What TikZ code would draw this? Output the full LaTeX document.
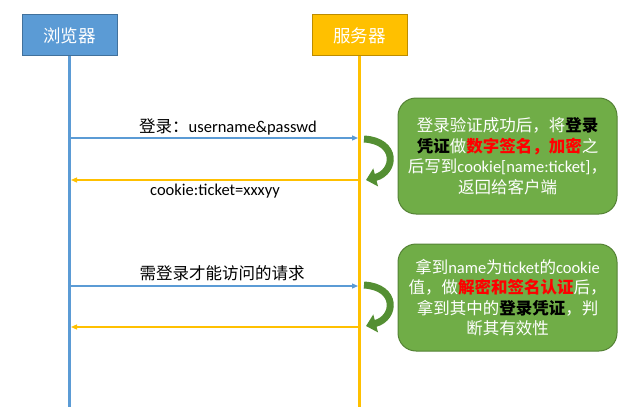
\documentclass[tikz,border=0pt]{standalone}
\usepackage{fontspec}
\setmainfont{Noto Sans CJK SC}
\newfontfamily\lat{Carlito}
\usetikzlibrary{arrows.meta}
\definecolor{hblue}{HTML}{5B9BD5}
\definecolor{hblueb}{HTML}{41719C}
\definecolor{hyel}{HTML}{FFC000}
\definecolor{hyelb}{HTML}{BC8C00}
\definecolor{gfill}{HTML}{70AD47}
\definecolor{gborder}{HTML}{548235}
\definecolor{gdark}{HTML}{548F33}
\definecolor{rtxt}{HTML}{FF0000}
\tikzset{
  head/.style={draw, line width=1pt, minimum width=95pt, minimum height=41pt, text=white, font=\fontsize{17.5}{20}\selectfont, inner sep=0pt},
  life/.style={line width=3pt},
  msg/.style={line width=1.2pt, -{Triangle[length=6pt,width=5pt]}},
  lbl/.style={font=\fontsize{16.5}{18}\selectfont, inner sep=0pt},
  note/.style={draw=gborder, fill=gfill, line width=1pt, rounded corners=18pt, text=white, align=center, font=\fontsize{16.5}{20.5}\selectfont, minimum width=219pt, inner sep=2pt},
  curv/.style={line width=7pt, draw=gdark, -{Triangle[length=10pt,width=18pt]}}
}
\newcommand\blk[1]{{\bfseries\color{black}#1}}
\newcommand\rd[1]{{\bfseries\color{rtxt}#1}}
\begin{document}
\begin{tikzpicture}[x=1pt,y=-1pt]
\useasboundingbox (0,0) rectangle (640,420);
% headers
\node[head, fill=hblue, draw=hblueb] (br) at (69.5,35.5) {浏览器};
\node[head, fill=hyel, draw=hyelb] (sv) at (359.5,35.5) {服务器};
\coordinate (brend) at (69.5,407);
\coordinate (svend) at (359.5,407);
\draw[life, hblue] (br.south) -- (brend);
\draw[life, hyel] (sv.south) -- (svend);
% message coordinates
\coordinate (b1) at (71,138); \coordinate (s1) at (358,138);
\coordinate (b2) at (71,180); \coordinate (s2) at (358,180);
\coordinate (b3) at (71,286); \coordinate (s3) at (358,286);
\coordinate (b4) at (71,327); \coordinate (s4) at (358,327);
\draw[msg, hblue] (b1) -- (s1);
\draw[msg, hyel] (s2) -- (b2);
\draw[msg, hblue] (b3) -- (s3);
\draw[msg, hyel] (s4) -- (b4);
% labels
\node[lbl] (l1) at (228,127) {登录：{\lat username\&passwd}};
\node[lbl] (l2) at (215,191) {\lat cookie:ticket=xxxyy};
\node[lbl] (l3) at (222,273) {需登录才能访问的请求};
% notes
\node[note, minimum height=116pt] (n1) at (507.5,156) {登录验证成功后，将\blk{登录}\\
\blk{凭证}做\rd{数字签名，加密}之\\
后写到{\lat cookie[name:ticket]}，\\
返回给客户端};
\node[note, minimum height=107pt] (n2) at (507.5,297.5) {拿到{\lat name}为{\lat ticket}的{\lat cookie}\\
值，做\rd{解密和签名认证}后，\\
拿到其中的\blk{登录凭证}，判\\
断其有效性};
% curved arrows
\coordinate (c1s) at (364,139); \coordinate (c1e) at (366,180);
\coordinate (c2s) at (364,285); \coordinate (c2e) at (366,326);
\draw[curv] (c1s) .. controls (398,141) and (396,172) .. (c1e);
\draw[curv] (c2s) .. controls (398,287) and (396,318) .. (c2e);
\end{tikzpicture}
\end{document}
